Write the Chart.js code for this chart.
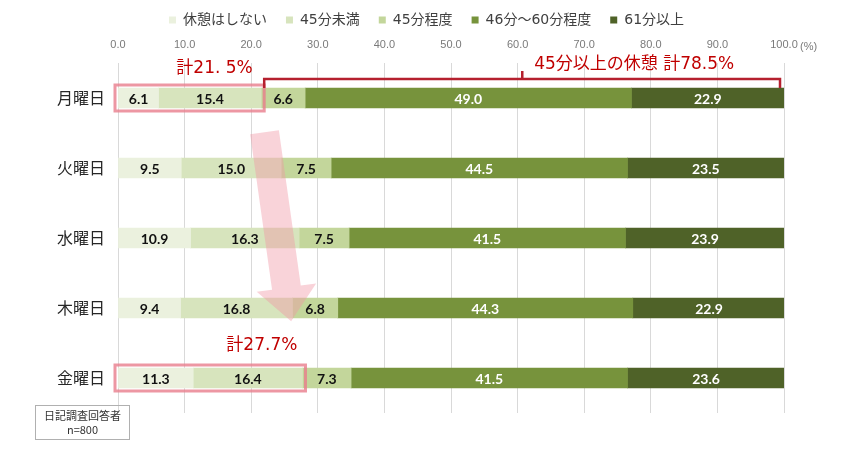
<!DOCTYPE html>
<html>
<head>
<meta charset="utf-8">
<script src="https://cdn.jsdelivr.net/npm/chart.js@4"></script>
<style>
  body { margin: 0; background: #fff; }
  #wrap { position: relative; width: 865px; height: 450px; }
  #note {
    position: absolute; left: 35px; top: 405px; width: 95px; height: 35px;
    border: 1px solid #b0b0b0; box-sizing: border-box;
    font-family: "Noto Sans CJK JP", sans-serif; font-size: 11px; line-height: 14px;
    color: #333; text-align: center; padding-top: 2px;
  }
</style>
</head>
<body>
<div id="wrap">
  <canvas id="chart"></canvas>
  <div id="note">日記調査回答者<br>n=800</div>
</div>
<script>
// days of week
const days = ["月曜日", "火曜日", "水曜日", "木曜日", "金曜日"];
const seriesNames = ["休憩はしない", "45分未満", "45分程度", "46分～60分程度", "61分以上"];
const noBreak = [6.1, 9.5, 10.9, 9.4, 11.3];
const under45 = [15.4, 15.0, 16.3, 16.8, 16.4];
const about45 = [6.6, 7.5, 7.5, 6.8, 7.3];
const from46to60 = [49.0, 44.5, 41.5, 44.3, 41.5];
const over61 = [22.9, 23.5, 23.9, 22.9, 23.6];
const xTicks = [0, 10, 20, 30, 40, 50, 60, 70, 80, 90, 100];

const colors = ["#ebf1de", "#d7e4bd", "#c3d69b", "#77933c", "#4f6228"];
const labelColors = ["#111", "#111", "#111", "#fff", "#fff"];

const red = "#c00000";
const jpFont = '"Noto Sans CJK JP", sans-serif';
const mixFont = '"DejaVu Sans", "Noto Sans CJK JP", sans-serif';

// keep the legend short so the axis labels fit under it
const legendHeight = {
    id: "legendHeight",
    afterInit(chart) {
        const lg = chart.legend;
        const fit = lg.fit;
        lg.fit = function() {
            fit.call(this);
            this.height = 34;
        };
    }
};

// value labels inside the bar segments
const segLabels = {
    id: "segLabels",
    afterDatasetsDraw(chart) {
        const ctx = chart.ctx;
        ctx.save();
        ctx.font = "bold 14px Lato, sans-serif";
        ctx.textAlign = "center";
        ctx.textBaseline = "middle";
        chart.data.datasets.forEach((ds, i) => {
            const meta = chart.getDatasetMeta(i);
            meta.data.forEach((bar, j) => {
                ctx.fillStyle = labelColors[i];
                ctx.fillText(ds.data[j].toFixed(1), (bar.x + bar.base) / 2, bar.y + 1);
            });
        });
        ctx.restore();
    }
};

// boxes, bracket, arrow and totals
const callouts = {
    id: "callouts",
    afterDatasetsDraw(chart) {
        const ctx = chart.ctx;
        const x = chart.scales.x, y = chart.scales.y;
        const half = 10;

        // totals from the data
        const monShort = +(noBreak[0] + under45[0]).toFixed(1);
        const friShort = +(noBreak[4] + under45[4]).toFixed(1);
        const monLong = +(about45[0] + from46to60[0] + over61[0]).toFixed(1);

        ctx.save();
        // pink arrow
        const ax0 = x.getPixelForValue(22.0), ay0 = y.getPixelForValue(0.49);
        const ax1 = x.getPixelForValue(26.0), ay1 = y.getPixelForValue(3.19);
        const ang = Math.atan2(ay1 - ay0, ax1 - ax0);
        const len = Math.hypot(ax1 - ax0, ay1 - ay0);
        ctx.translate(ax0, ay0);
        ctx.rotate(ang);
        ctx.fillStyle = "rgba(240,150,165,0.42)";
        ctx.beginPath();
        ctx.moveTo(0, -14.5);
        ctx.lineTo(len - 34, -14.5);
        ctx.lineTo(len - 34, -30);
        ctx.lineTo(len, 0);
        ctx.lineTo(len - 34, 30);
        ctx.lineTo(len - 34, 14.5);
        ctx.lineTo(0, 14.5);
        ctx.closePath();
        ctx.fill();
        ctx.restore();

        ctx.save();
        // pink boxes around the short-break segments
        ctx.strokeStyle = "rgba(232,125,140,0.8)";
        ctx.lineWidth = 3;
        const monY = y.getPixelForValue(0), friY = y.getPixelForValue(4);
        ctx.strokeRect(x.getPixelForValue(0) - 3, monY - half - 3,
            x.getPixelForValue(monShort) - x.getPixelForValue(0) + 6, 2 * half + 6);
        ctx.strokeRect(x.getPixelForValue(0) - 3, friY - half - 3,
            x.getPixelForValue(friShort) - x.getPixelForValue(0) + 6, 2 * half + 6);

        // bracket over the long-break segments
        ctx.strokeStyle = "#b5202e";
        ctx.lineWidth = 2.5;
        const bl = x.getPixelForValue(100 - monLong) + 3;
        const br = x.getPixelForValue(99.4);
        const bTop = monY - 19, bBot = monY - half;
        const mid = x.getPixelForValue(60.7);
        ctx.beginPath();
        ctx.moveTo(bl, bBot);
        ctx.lineTo(bl, bTop);
        ctx.lineTo(br, bTop);
        ctx.lineTo(br, bBot);
        ctx.moveTo(mid, bTop);
        ctx.lineTo(mid, bTop - 8);
        ctx.stroke();

        // total texts
        ctx.fillStyle = red;
        ctx.textAlign = "center";
        ctx.textBaseline = "middle";
        ctx.font = "17px " + mixFont;
        ctx.fillText("計" + monShort.toFixed(1).replace(".", ". ") + "%",
            x.getPixelForValue(14.5), monY - 29);
        ctx.fillText("計" + friShort.toFixed(1) + "%", x.getPixelForValue(21.6), friY - 32);
        ctx.fillText("45分以上の休憩 計" + monLong.toFixed(1) + "%", x.getPixelForValue(77.5), monY - 33);

        // unit next to the last tick
        ctx.fillStyle = "#7a7a7a";
        ctx.font = "11px 'Liberation Sans', sans-serif";
        ctx.textAlign = "left";
        ctx.fillText("(%)", x.getPixelForValue(100) + 16, chart.chartArea.top - 16);
        ctx.restore();
    }
};

const mk = (i, data) => ({
    label: seriesNames[i],
    data: data,
    backgroundColor: colors[i],
    borderWidth: 0,
    barThickness: 20
});

new Chart(document.getElementById("chart"), {
    type: "bar",
    data: {
        labels: days,
        datasets: [
            mk(0, noBreak),
            mk(1, under45),
            mk(2, about45),
            mk(3, from46to60),
            mk(4, over61)
        ]
    },
    options: {
        indexAxis: "y",
        responsive: true,
        maintainAspectRatio: false,
        animation: false,
        layout: { padding: { top: -6, right: 12, bottom: 37, left: 0 } },
        plugins: {
            legend: {
                position: "top",
                labels: {
                    boxWidth: 7,
                    boxHeight: 7,
                    padding: 19,
                    color: "#404040",
                    font: { family: mixFont, size: 14 }
                }
            },
            tooltip: { enabled: false }
        },
        scales: {
            x: {
                position: "top",
                stacked: true,
                min: 0,
                max: 100,
                afterBuildTicks(scale) {
                    scale.ticks = xTicks.map(v => ({ value: v }));
                },
                afterFit(scale) { scale.height = 35; },
                grid: { color: "#d9d9d9", drawTicks: false },
                border: { display: false },
                ticks: {
                    padding: 11,
                    color: "#7a7a7a",
                    font: { family: "'Liberation Sans', sans-serif", size: 11 },
                    callback: v => v.toFixed(1)
                }
            },
            y: {
                stacked: true,
                afterFit(scale) { scale.width = 118; },
                grid: { display: false, drawTicks: false },
                border: { display: false },
                ticks: {
                    padding: 13,
                    color: "#262626",
                    font: { family: jpFont, size: 16 }
                }
            },
            // empty right-hand axis that keeps the plot off the right edge
            yRight: {
                type: "category",
                position: "right",
                afterFit(scale) { scale.width = 69; },
                grid: { display: false, drawTicks: false },
                border: { display: false },
                ticks: { display: false }
            }
        }
    },
    plugins: [legendHeight, segLabels, callouts]
});
</script>
</body>
</html>
